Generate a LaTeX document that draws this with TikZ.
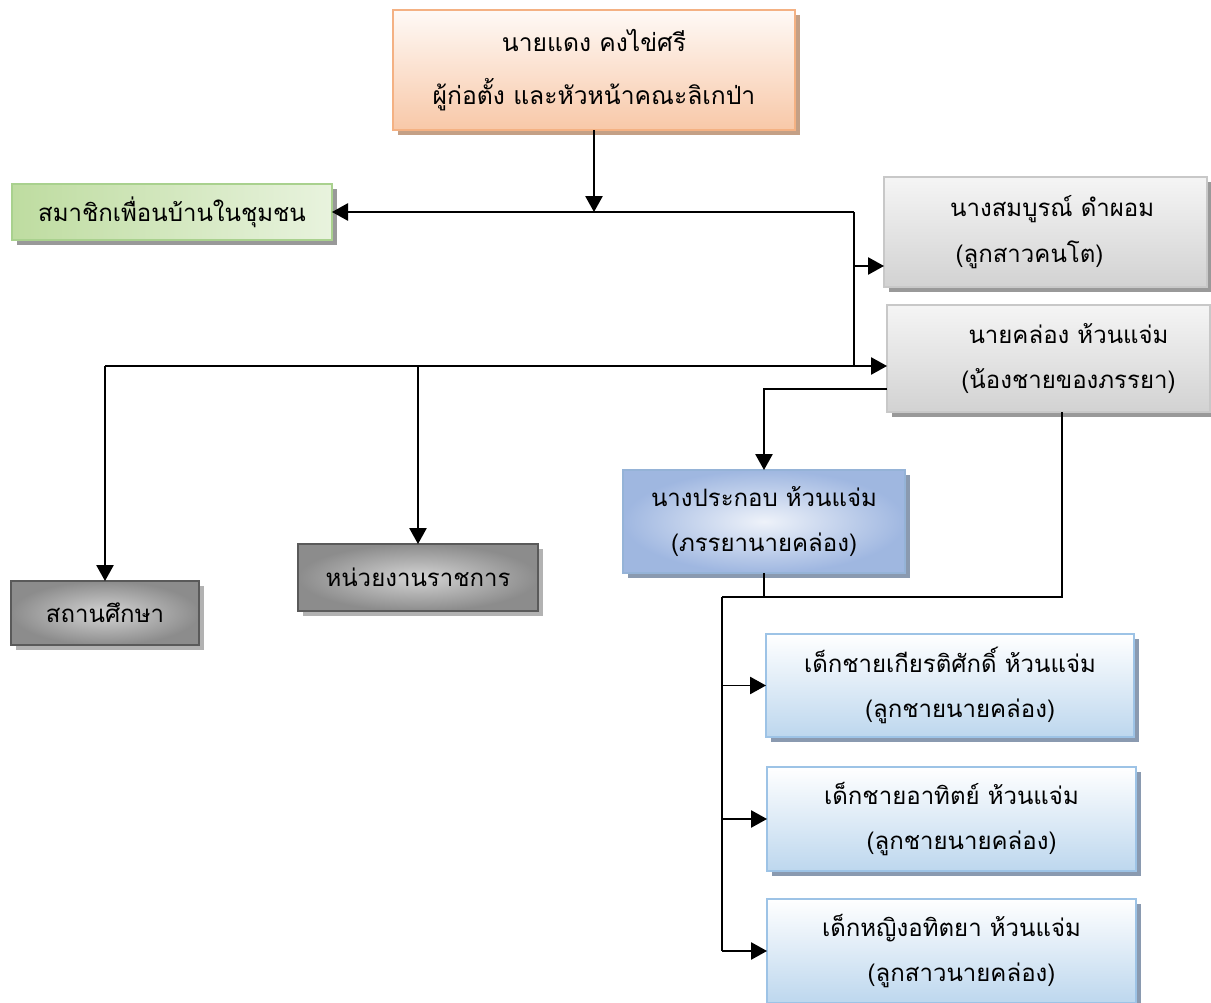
\documentclass[tikz,border=0pt]{standalone}
\usepackage{fontspec}
\newfontfamily\thaifont[Script=Thai]{Loma}
\usetikzlibrary{arrows.meta,shadows}

\definecolor{founderline}{RGB}{244,177,131}
\definecolor{founderfill}{RGB}{248,200,168}
\definecolor{foundershadow}{RGB}{196,160,134}
\definecolor{memberline}{RGB}{169,209,142}
\definecolor{memberfill}{RGB}{190,220,160}
\definecolor{lightline}{RGB}{200,200,200}
\definecolor{lightfill}{RGB}{210,210,210}
\definecolor{darkline}{RGB}{90,90,90}
\definecolor{darkfill}{RGB}{140,140,140}
\definecolor{wifeline}{RGB}{149,179,215}
\definecolor{wifefill}{RGB}{142,170,219}
\definecolor{kidline}{RGB}{157,195,230}
\definecolor{kidfill}{RGB}{189,215,238}
\definecolor{blueshadow}{RGB}{138,154,176}

\tikzset{
  box/.style={draw, line width=1.5pt, inner sep=0pt, outer sep=0pt, align=center,
    font=\thaifont\fontsize{18}{34}\selectfont},
  founderbox/.style={box, draw=founderline, top color=white!90!founderfill, bottom color=founderfill,
    drop shadow={shadow xshift=4pt, shadow yshift=-4pt, fill=foundershadow, opacity=1},
    font=\thaifont\fontsize{18.5}{40}\selectfont},
  memberbox/.style={box, draw=memberline, left color=memberfill, right color=memberfill!35!white,
    drop shadow={shadow xshift=4pt, shadow yshift=-4pt, fill=black!40, opacity=1}},
  familybox/.style={box, draw=lightline, top color=white!96!black, bottom color=lightfill,
    drop shadow={shadow xshift=4pt, shadow yshift=-4pt, fill=black!40, opacity=1}},
  agencybox/.style={box, draw=darkline, inner color=black!17, outer color=darkfill,
    drop shadow={shadow xshift=4pt, shadow yshift=-4pt, fill=black!30, opacity=1}},
  wifebox/.style={box, draw=wifeline, inner color=wifefill!15!white, outer color=wifefill!85!white,
    drop shadow={shadow xshift=4pt, shadow yshift=-4pt, fill=blueshadow, opacity=1}},
  kidbox/.style={box, draw=kidline, top color=white, bottom color=kidfill,
    drop shadow={shadow xshift=4pt, shadow yshift=-4pt, fill=blueshadow, opacity=1}},
  link/.style={line width=1.2pt},
  arr/.style={link, -{Triangle[width=13pt,length=12pt]}}
}

\begin{document}
\begin{tikzpicture}[x=0.75pt,y=-0.75pt]
  \useasboundingbox (0,0) rectangle (1211,1003);

  % Boxes
  \node [founderbox, minimum width=301.5pt, minimum height=90pt] (founder) at (594,70)
    {นายแดง คงไข่ศรี\\ผู้ก่อตั้ง และหัวหน้าคณะลิเกป่า};
  \node [memberbox, minimum width=240pt, minimum height=42pt] (member) at (172,212)
    {สมาชิกเพื่อนบ้านในชุมชน};
  \node [familybox, minimum width=242.25pt, minimum height=82.5pt] (eldest) at (1045.5,232)
    {\hspace*{10pt}นางสมบูรณ์ ดำผอม\\(ลูกสาวคนโต)\hspace*{24pt}};
  \node [familybox, minimum width=242.25pt, minimum height=80.25pt] (klong) at (1048.5,358.5)
    {\hspace*{30pt}นายคล่อง ห้วนแจ่ม\\\hspace*{30pt}(น้องชายของภรรยา)};
  \node [wifebox, minimum width=211.5pt, minimum height=77.25pt] (prakob) at (764,521.5)
    {นางประกอบ ห้วนแจ่ม\\(ภรรยานายคล่อง)};
  \node [agencybox, minimum width=141pt, minimum height=48pt] (school) at (105,613)
    {สถานศึกษา};
  \node [agencybox, minimum width=180pt, minimum height=50.25pt] (gov) at (418,577.5)
    {หน่วยงานราชการ};
  \node [kidbox, minimum width=276pt, minimum height=77.25pt] (kiat) at (950,685.5)
    {เด็กชายเกียรติศักดิ์ ห้วนแจ่ม\\\hspace*{15pt}(ลูกชายนายคล่อง)};
  \node [kidbox, minimum width=276.75pt, minimum height=78pt] (athit) at (951.5,819)
    {เด็กชายอาทิตย์ ห้วนแจ่ม\\\hspace*{15pt}(ลูกชายนายคล่อง)};
  \node [kidbox, minimum width=276.75pt, minimum height=78pt] (athitaya) at (951.5,951)
    {เด็กหญิงอทิตยา ห้วนแจ่ม\\\hspace*{15pt}(ลูกสาวนายคล่อง)};

  % Junctions
  \coordinate (top-j) at (594,212);
  \coordinate (ne-j) at (854,212);
  \coordinate (eldest-j) at (854,266);
  \coordinate (se-j) at (854,366);
  \coordinate (sw-j) at (105,366);
  \coordinate (gov-j) at (418,366);
  \coordinate (wife-j) at (764,389);
  \coordinate (klong-j) at (1062,597);
  \coordinate (kids-j) at (722,597);

  % Straight Lines
  \draw [arr] (founder.south) -- (top-j);
  \draw [arr] (ne-j) -- (member.east);
  \draw [link] (ne-j) -- (se-j);
  \draw [arr] (eldest-j) -- (eldest-j -| eldest.west);
  \draw [arr] (se-j) -- (se-j -| klong.west);
  \draw [link] (se-j) -- (sw-j);
  \draw [arr] (sw-j) -- (school.north);
  \draw [arr] (gov-j) -- (gov.north);
  \draw [arr] (wife-j -| klong.west) -- (wife-j) -- (prakob.north);
  \draw [link] (klong-j |- klong.south) -- (klong-j) -- (kids-j);
  \draw [link] (prakob.south) -- (prakob.south |- kids-j);
  \draw [link] (kids-j) -- (kids-j |- athitaya.west);
  \draw [arr] (kids-j |- kiat.west) -- (kiat.west);
  \draw [arr] (kids-j |- athit.west) -- (athit.west);
  \draw [arr] (kids-j |- athitaya.west) -- (athitaya.west);
\end{tikzpicture}
\end{document}
